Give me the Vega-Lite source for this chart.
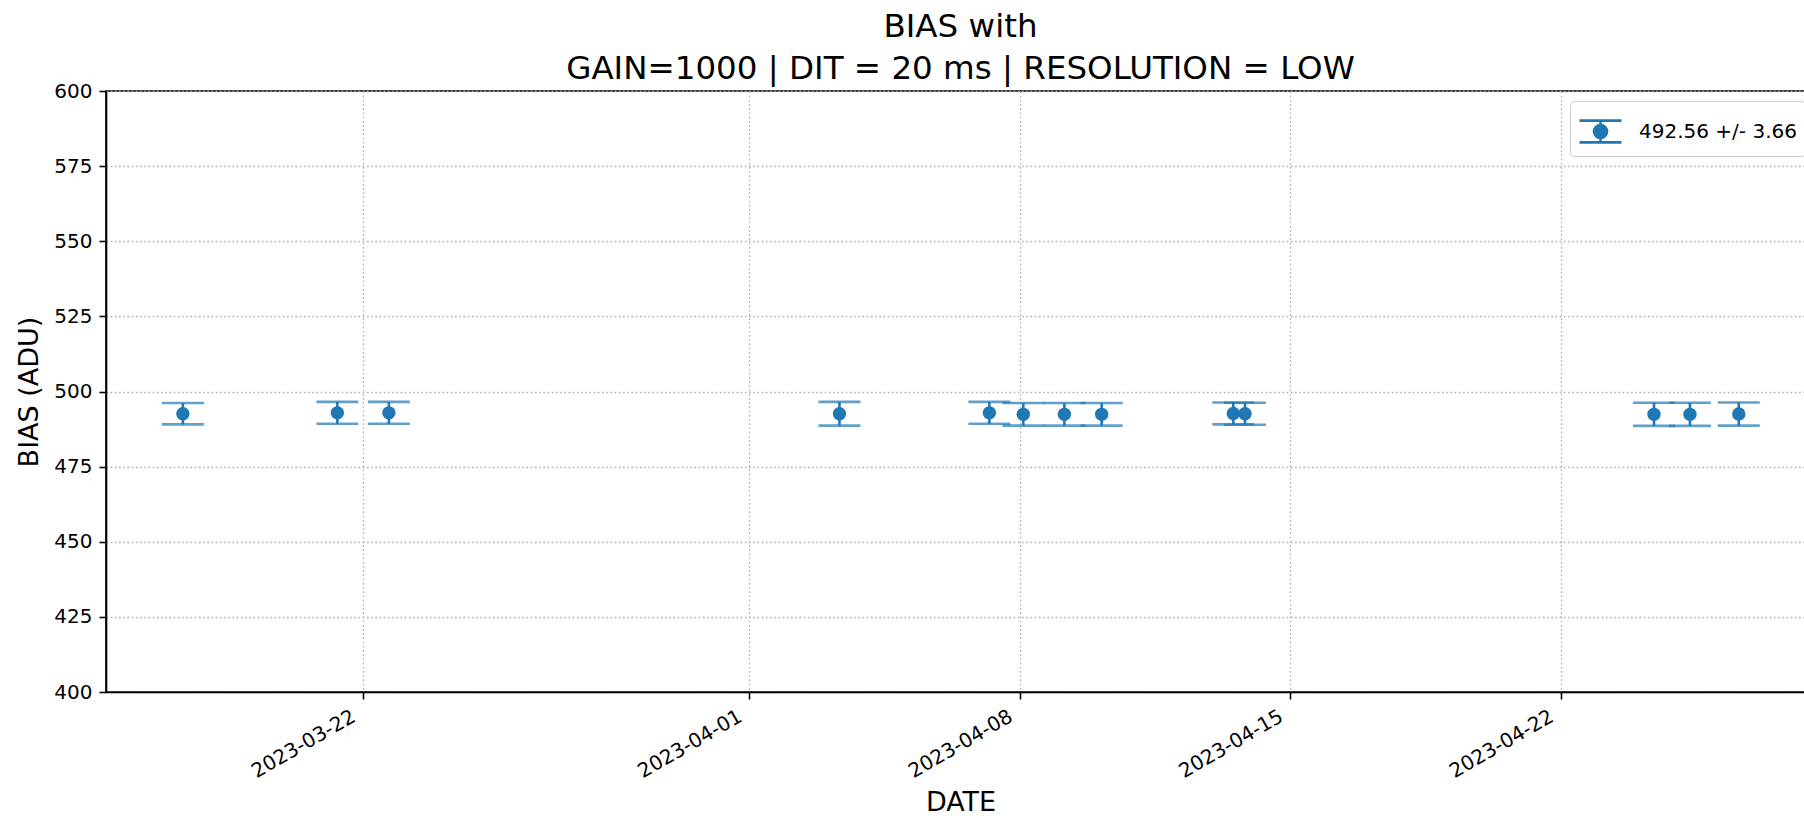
{
  "$schema": "https://vega.github.io/schema/vega-lite/v6.json",
  "autosize": "none",
  "width": 1709,
  "height": 601,
  "padding": {"left": 106, "top": 91, "right": 0, "bottom": 124},
  "background": "white",
  "title": {
    "text": ["BIAS with", "GAIN=1000 | DIT = 20 ms | RESOLUTION = LOW"],
    "font": "DejaVu Sans",
    "fontSize": 32.5,
    "fontWeight": "normal",
    "color": "black",
    "anchor": "middle",
    "lineHeight": 42,
    "offset": -4
  },
  "config": {
    "view": {"stroke": "black", "strokeWidth": 1.6},
    "axis": {
      "labelFont": "DejaVu Sans",
      "labelFontSize": 20,
      "labelColor": "black",
      "titleFont": "DejaVu Sans",
      "titleFontSize": 27,
      "titleFontWeight": "normal",
      "titleColor": "black",
      "domainColor": "black",
      "domainWidth": 1.6,
      "tickColor": "black",
      "tickWidth": 1.6,
      "tickSize": 7,
      "labelPadding": 7,
      "gridColor": "#b0b0b0",
      "gridDash": [1.6, 2.6],
      "gridWidth": 1.3
    },
    "legend": {
      "title": null,
      "orient": "top-right",
      "offset": 10,
      "labelFont": "DejaVu Sans",
      "labelFontSize": 20,
      "labelColor": "black",
      "fillColor": "white",
      "strokeColor": "#cccccc",
      "padding": 8,
      "cornerRadius": 4,
      "symbolType": "M-1,-0.52L1,-0.52M0,-0.52L0,0.52M-1,0.52L1,0.52M0.31,0A0.31,0.31,0,1,1,-0.31,0A0.31,0.31,0,1,1,0.31,0Z",
      "symbolSize": 1764,
      "symbolFillColor": "#1f77b4",
      "symbolStrokeColor": "#1f77b4",
      "symbolStrokeWidth": 2.6,
      "symbolOpacity": 1,
      "labelOffset": 16
    }
  },
  "data": {
    "values": [
      {"date": "2023-03-17T08:24:00Z", "bias": 492.6, "err": 3.55, "label": "492.56 +/- 3.66"},
      {"date": "2023-03-21T08:20:00Z", "bias": 492.9, "err": 3.65, "label": "492.56 +/- 3.66"},
      {"date": "2023-03-22T16:20:00Z", "bias": 492.9, "err": 3.65, "label": "492.56 +/- 3.66"},
      {"date": "2023-04-03T08:10:00Z", "bias": 492.6, "err": 3.95, "label": "492.56 +/- 3.66"},
      {"date": "2023-04-07T05:15:00Z", "bias": 492.9, "err": 3.65, "label": "492.56 +/- 3.66"},
      {"date": "2023-04-08T02:20:00Z", "bias": 492.4, "err": 3.75, "label": "492.56 +/- 3.66"},
      {"date": "2023-04-09T03:50:00Z", "bias": 492.4, "err": 3.75, "label": "492.56 +/- 3.66"},
      {"date": "2023-04-10T03:00:00Z", "bias": 492.4, "err": 3.75, "label": "492.56 +/- 3.66"},
      {"date": "2023-04-13T12:45:00Z", "bias": 492.7, "err": 3.65, "label": "492.56 +/- 3.66"},
      {"date": "2023-04-13T20:00:00Z", "bias": 492.6, "err": 3.65, "label": "492.56 +/- 3.66"},
      {"date": "2023-04-24T10:00:00Z", "bias": 492.4, "err": 3.85, "label": "492.56 +/- 3.66"},
      {"date": "2023-04-25T08:20:00Z", "bias": 492.4, "err": 3.85, "label": "492.56 +/- 3.66"},
      {"date": "2023-04-26T14:40:00Z", "bias": 492.5, "err": 3.85, "label": "492.56 +/- 3.66"}
    ]
  },
  "encoding": {
    "x": {
      "field": "date",
      "type": "temporal",
      "title": "DATE",
      "scale": {
        "type": "utc",
        "domain": [
          {"year": 2023, "month": 3, "date": 15, "hours": 8, "minutes": 40, "utc": true},
          {"year": 2023, "month": 4, "date": 28, "hours": 14, "utc": true}
        ]
      },
      "axis": {
        "values": [
          {"year": 2023, "month": 3, "date": 22, "utc": true},
          {"year": 2023, "month": 4, "date": 1, "utc": true},
          {"year": 2023, "month": 4, "date": 8, "utc": true},
          {"year": 2023, "month": 4, "date": 15, "utc": true},
          {"year": 2023, "month": 4, "date": 22, "utc": true}
        ],
        "format": "%Y-%m-%d",
        "labelAngle": -30,
        "labelAlign": "right",
        "labelBaseline": "top",
        "labelOffset": -14,
        "titlePadding": 8,
        "grid": true
      }
    }
  },
  "layer": [
    {
      "mark": {"type": "errorbar", "ticks": true, "size": 42, "thickness": 2.6, "color": "#1f77b4"},
      "encoding": {
        "y": {
          "field": "bias",
          "type": "quantitative",
          "title": "BIAS (ADU)",
          "scale": {"domain": [400, 600], "zero": false},
          "axis": {"values": [400, 425, 450, 475, 500, 525, 550, 575, 600], "grid": true, "titlePadding": 10}
        },
        "yError": {"field": "err"}
      }
    },
    {
      "mark": {"type": "point", "filled": true, "size": 180, "opacity": 1, "shape": "circle"},
      "encoding": {
        "y": {"field": "bias", "type": "quantitative"},
        "color": {
          "field": "label",
          "type": "nominal",
          "scale": {"range": ["#1f77b4"]}
        }
      }
    }
  ]
}
